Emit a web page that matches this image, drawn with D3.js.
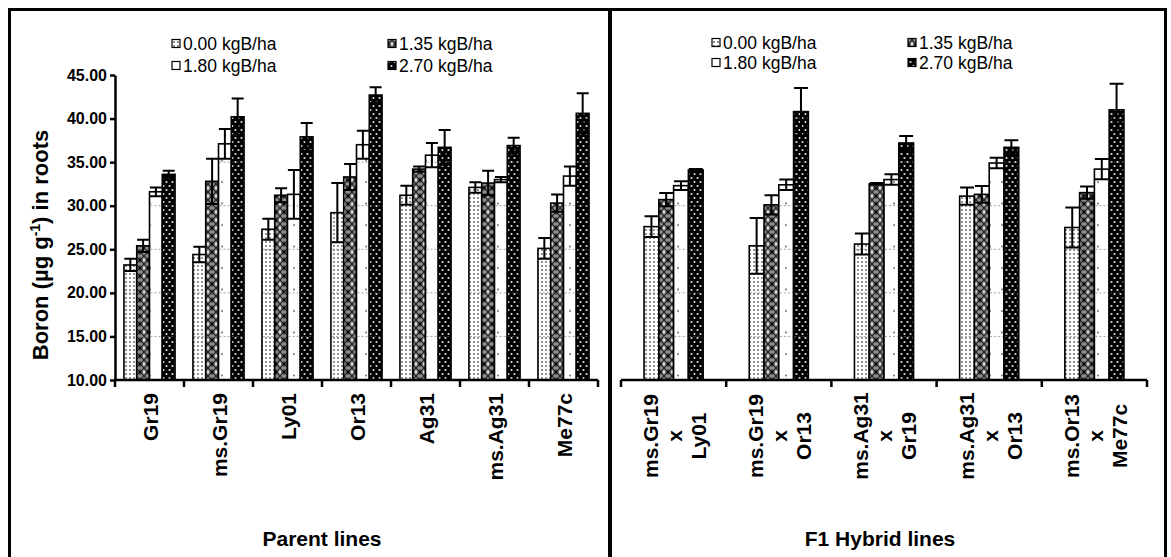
<!DOCTYPE html>
<html><head><meta charset="utf-8">
<script src="https://cdn.jsdelivr.net/npm/d3@7"></script>
<style>
body{margin:0;background:#fff;}
text{font-family:Arial,"Liberation Sans",sans-serif;}
</style></head>
<body><svg id="c" width="1171" height="557"></svg>
<script>
// ---------- data ----------
const seriesNames = ["0.00 kgB/ha","1.35 kgB/ha","1.80 kgB/ha","2.70 kgB/ha"];
const yTicks = [10,15,20,25,30,35,40,45];

const parentCategories = ["Gr19","ms.Gr19","Ly01","Or13","Ag31","ms.Ag31","Me77c"];
const parent000 = [23.2, 24.4, 27.3, 29.2, 31.2, 32.1, 25.1];
const parent135 = [25.4, 32.8, 31.2, 33.3, 34.2, 32.6, 30.3];
const parent180 = [31.6, 37.1, 31.3, 37.0, 35.8, 33.0, 33.4];
const parent270 = [33.6, 40.2, 37.9, 42.7, 36.7, 36.9, 40.6];
const parentErr000 = [0.7, 0.9, 1.2, 3.4, 1.1, 0.6, 1.2];
const parentErr135 = [0.7, 2.6, 0.8, 1.5, 0.3, 1.4, 1.0];
const parentErr180 = [0.5, 1.7, 2.8, 1.6, 1.4, 0.3, 1.1];
const parentErr270 = [0.4, 2.1, 1.6, 0.9, 2.0, 0.9, 2.3];

const hybridCategories = [["ms.Gr19","x","Ly01"],["ms.Gr19","x","Or13"],["ms.Ag31","x","Gr19"],["ms.Ag31","x","Or13"],["ms.Or13","x","Me77c"]];
const hybrid000 = [27.6, 25.4, 25.6, 31.1, 27.5];
const hybrid135 = [30.7, 30.1, 32.5, 31.3, 31.5];
const hybrid180 = [32.3, 32.4, 33.0, 34.9, 34.2];
const hybrid270 = [34.1, 40.8, 37.2, 36.7, 41.0];
const hybridErr000 = [1.2, 3.2, 1.2, 1.0, 2.3];
const hybridErr135 = [0.75, 1.1, 0.1, 0.95, 0.7];
const hybridErr180 = [0.5, 0.6, 0.6, 0.6, 1.15];
const hybridErr270 = [0.1, 2.7, 0.8, 0.8, 3.0];

// ---------- drawing ----------
const svg = d3.select("#c");
svg.append("rect").attr("width",1171).attr("height",557).attr("fill","#fff");
const defs = svg.append("defs");

// patterns
const p0 = defs.append("pattern").attr("id","pat0").attr("patternUnits","userSpaceOnUse").attr("width",4).attr("height",4);
p0.append("rect").attr("width",4).attr("height",4).attr("fill","#fff");
p0.append("circle").attr("cx",2).attr("cy",2).attr("r",1).attr("fill","#6e6e6e");

const p1 = defs.append("pattern").attr("id","pat1").attr("patternUnits","userSpaceOnUse").attr("width",8).attr("height",8);
p1.append("rect").attr("width",8).attr("height",8).attr("fill","#8c8c8c");
p1.append("path").attr("d","M0,0L8,8M8,0L0,8").attr("stroke","#1a1a1a").attr("stroke-width",1.1);
p1.append("path").attr("d","M4,1.5V6.5M1.5,4H6.5").attr("stroke","#000").attr("stroke-width",1);
p1.append("circle").attr("cx",0).attr("cy",4).attr("r",1.2).attr("fill","#e6e6e6");
p1.append("circle").attr("cx",8).attr("cy",4).attr("r",1.2).attr("fill","#e6e6e6");

const p2 = defs.append("pattern").attr("id","pat2").attr("patternUnits","userSpaceOnUse").attr("width",12).attr("height",21.5);
p2.append("rect").attr("width",12).attr("height",21.5).attr("fill","#fff");
p2.append("circle").attr("cx",6).attr("cy",10).attr("r",1).attr("fill","#666");

const p3 = defs.append("pattern").attr("id","pat3").attr("patternUnits","userSpaceOnUse").attr("width",6).attr("height",8);
p3.append("rect").attr("width",6).attr("height",8).attr("fill","#000");
p3.append("circle").attr("cx",1.5).attr("cy",2).attr("r",1.1).attr("fill","#ddd");
p3.append("circle").attr("cx",4.5).attr("cy",6).attr("r",1.1).attr("fill","#ddd");

const fills = ["url(#pat0)","url(#pat1)","url(#pat2)","url(#pat3)"];

// frames
svg.append("rect").attr("x",9.5).attr("y",9.5).attr("width",1156).attr("height",560)
  .attr("fill","none").attr("stroke","#000").attr("stroke-width",3);
svg.append("line").attr("x1",610).attr("x2",610).attr("y1",9).attr("y2",557)
  .attr("stroke","#000").attr("stroke-width",4);

const y = d3.scaleLinear().domain([10,45]).range([380,75]);

function drawPanel(opts){
  const {cats, vals, errs, x0, x1, outerPad, labelFn, yAxis} = opts;
  const g = svg.append("g");
  const xg = d3.scaleBand().domain(d3.range(cats.length)).range([x0,x1]).padding(0);
  const xs = d3.scaleBand().domain(d3.range(4)).range([0,xg.bandwidth()]).paddingInner(0).paddingOuter(outerPad);
  const bw = xs.bandwidth();

  // bars
  for(let s=0;s<4;s++){
    const gs = g.append("g");
    gs.selectAll("rect").data(vals[s]).join("rect")
      .attr("x",(d,i)=>xg(i)+xs(s))
      .attr("y",d=>y(d))
      .attr("width",bw)
      .attr("height",d=>y(10)-y(d))
      .attr("fill",fills[s])
      .attr("stroke","#000").attr("stroke-width",1.6);
    // faint grid dashes visible inside bars
    vals[s].forEach((v,i)=>{
      yTicks.filter(t=>t>10 && t<v-0.4).forEach(t=>{
        gs.append("line").attr("x1",xg(i)+xs(s)+1).attr("x2",xg(i)+xs(s)+bw-1)
          .attr("y1",y(t)).attr("y2",y(t))
          .attr("stroke", s===3 ? "#555" : "#888").attr("stroke-width",0.8).attr("stroke-dasharray","2,2");
      });
    });
  }
  // error bars
  for(let s=0;s<4;s++){
    vals[s].forEach((v,i)=>{
      const cx = xg(i)+xs(s)+bw/2, e = errs[s][i];
      const cw = bw*0.47;
      g.append("path")
        .attr("d",`M${cx},${y(v-e)}V${y(v+e)}M${cx-cw},${y(v+e)}H${cx+cw}M${cx-cw},${y(v-e)}H${cx+cw}`)
        .attr("stroke","#000").attr("stroke-width",2).attr("fill","none");
    });
  }
  // x axis
  const bounds = d3.range(cats.length+1).map(i=> i<cats.length ? xg(i) : x1);
  g.append("line").attr("x1",x0).attr("x2",x1).attr("y1",380).attr("y2",380)
    .attr("stroke","#000").attr("stroke-width",2.5);
  g.selectAll("line.tk").data(bounds).join("line").attr("class","tk")
    .attr("x1",d=>d).attr("x2",d=>d).attr("y1",380).attr("y2",387)
    .attr("stroke","#000").attr("stroke-width",2.5);
  labelFn(g, xg);

  if(yAxis){
    const ax = g.append("g").attr("transform",`translate(${x0},0)`)
      .call(d3.axisLeft(y).tickValues(yTicks).tickFormat(d3.format(".2f")).tickSize(5).tickSizeOuter(0));
    ax.select(".domain").attr("stroke-width",2.5);
    ax.selectAll(".tick line").attr("stroke-width",2.5);
    ax.selectAll(".tick text").attr("font-size",16).attr("font-weight","bold")
      .attr("font-family","Arial, 'Liberation Sans', sans-serif").attr("fill","#000").attr("x",-8);
  }
}

// Parent panel
drawPanel({
  cats: parentCategories,
  vals: [parent000,parent135,parent180,parent270],
  errs: [parentErr000,parentErr135,parentErr180,parentErr270],
  x0:115, x1:598, outerPad:0.7, yAxis:true,
  labelFn:(g,xg)=>{
    g.selectAll("text.xl").data(parentCategories).join("text").attr("class","xl")
      .attr("transform",(d,i)=>`translate(${xg(i)+xg.bandwidth()/2+8},393) rotate(-90)`)
      .attr("text-anchor","end").attr("font-size",21).attr("font-weight","bold").text(d=>d);
  }
});

// Hybrid panel
drawPanel({
  cats: hybridCategories,
  vals: [hybrid000,hybrid135,hybrid180,hybrid270],
  errs: [hybridErr000,hybridErr135,hybridErr180,hybridErr270],
  x0:621, x1:1147, outerPad:1.56, yAxis:false,
  labelFn:(g,xg)=>{
    hybridCategories.forEach((lines,i)=>{
      const cx = xg(i)+xg.bandwidth()/2;
      lines.forEach((t,k)=>{
        g.append("text")
          .attr("transform",`translate(${cx + (k-1)*24 + 1},436) rotate(-90)`)
          .attr("text-anchor","middle").attr("dy","0.35em")
          .attr("font-size",21).attr("font-weight","bold").text(t);
      });
    });
  }
});

// y title
const yt = svg.append("text").attr("transform","translate(48,245) rotate(-90)")
  .attr("text-anchor","middle").attr("font-size",22).attr("font-weight","bold");
yt.append("tspan").text("Boron (µg g");
yt.append("tspan").attr("font-size",14).attr("dy",-8).text("-1");
yt.append("tspan").attr("dy",8).text(") in roots");

// panel titles
svg.append("text").attr("x",322).attr("y",546).attr("text-anchor","middle")
  .attr("font-size",21).attr("font-weight","bold").text("Parent lines");
svg.append("text").attr("x",880).attr("y",546).attr("text-anchor","middle")
  .attr("font-size",21).attr("font-weight","bold").text("F1 Hybrid lines");

// legends
function legend(x0, x1c, r0, r1){
  const pos = [[x0,r0],[x1c,r0],[x0,r1],[x1c,r1]];
  seriesNames.forEach((n,s)=>{
    const [lx,ly] = pos[s];
    svg.append("rect").attr("x",lx).attr("y",ly-4.5).attr("width",8).attr("height",8)
      .attr("fill",fills[s]).attr("stroke","#000").attr("stroke-width",1.2);
    svg.append("text").attr("x",lx+11).attr("y",ly).attr("dy","0.35em")
      .attr("font-size",17.5).text(n);
  });
}
legend(172, 388, 44, 66);
legend(712, 908, 43, 63);
</script></body></html>
